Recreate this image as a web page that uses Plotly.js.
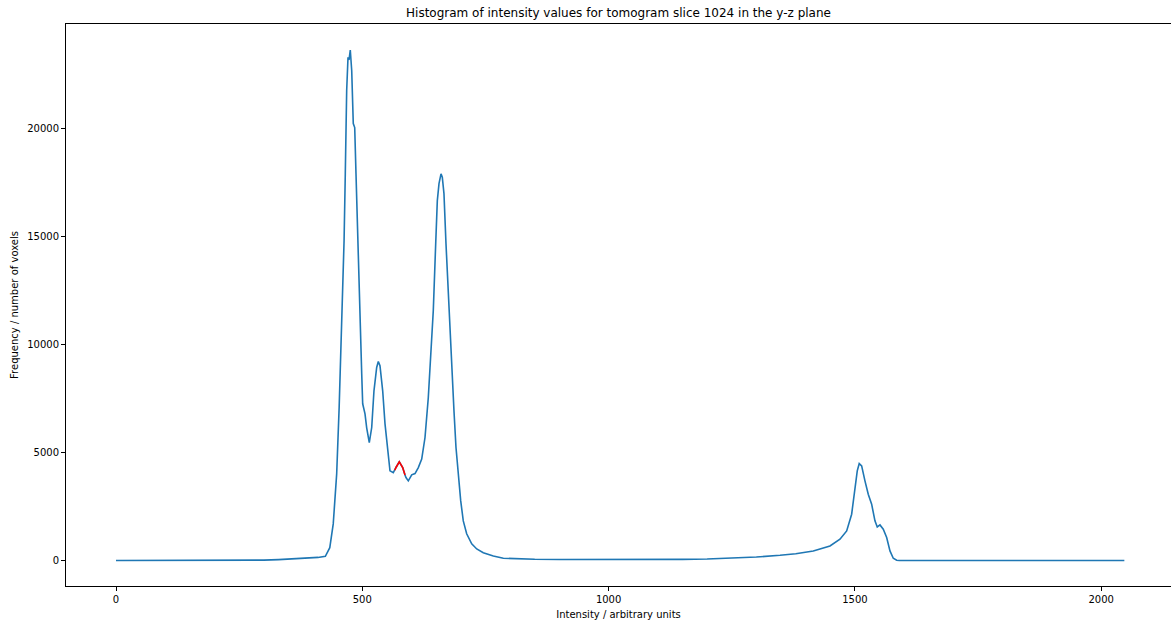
<!DOCTYPE html>
<html>
<head>
<meta charset="utf-8">
<script src="https://cdn.plot.ly/plotly-3.0.1.min.js"></script>
<style>
html, body { margin: 0; padding: 0; overflow: hidden; background: #fff; }
#chart { width: 1171px; height: 621px; }
</style>
</head>
<body>
<div id="chart"></div>
<script>
// Histogram (intensity, frequency)
const intensity = [0, 100, 200, 250, 280, 300, 330, 360, 390, 410, 425, 434, 441, 448, 453, 457, 460, 463, 465.5, 468.3, 471, 473, 475.6, 477, 478.5, 481.7, 484.6, 487.2, 490.7, 493.9, 498.8, 500.8, 505.5, 508.9, 514.2, 519.1, 523.7, 529.2, 532.5, 535.9, 541.4, 546.1, 551.6, 556.2, 562.9, 566, 568.4, 575.1, 582, 586.7, 588.7, 593.4, 600.3, 607, 613.7, 620.6, 627.3, 634, 638.9, 642.1, 644.1, 649, 652.3, 655.7, 659.8, 662.4, 665.8, 669.9, 674.6, 680.1, 686.1, 690.2, 694.9, 699.8, 705, 711.9, 722.1, 732.3, 745.6, 766, 786.3, 820, 850, 900, 950, 1000, 1050, 1100, 1150, 1200, 1250, 1300, 1348, 1380, 1415.5, 1449.4, 1469.7, 1483.3, 1493.4, 1500.1, 1504.8, 1508.8, 1513.7, 1520.4, 1527.1, 1534, 1540.7, 1545.4, 1550.9, 1557.6, 1564.5, 1571.2, 1577.9, 1584.8, 1590, 1700, 1800, 1900, 2000, 2047];
const frequency = [0, 0, 0, 3, 8, 15, 40, 70, 110, 140, 190, 593, 1690, 4005, 7075, 10163, 13265, 14793, 17895, 21738, 23280, 23150, 23610, 23000, 22663, 20210, 20025, 17895, 14793, 11705, 8635, 7246, 6783, 6135, 5454, 6149, 7848, 8927, 9204, 9005, 7848, 6320, 4931, 4144, 4065, 4170, 4301, 4561, 4301, 3950, 3834, 3681, 3959, 4019, 4297, 4686, 5686, 7538, 9390, 10626, 11552, 14654, 16645, 17432, 17881, 17724, 16969, 14654, 12339, 9237, 6922, 5223, 3834, 2755, 1829, 1232, 769, 532, 361, 208, 102, 70, 55, 45, 40, 35, 35, 40, 50, 65, 100, 160, 240, 310, 440, 671, 982, 1366, 2139, 3218, 4144, 4482, 4375, 3681, 3065, 2602, 1833, 1551, 1644, 1444, 1060, 440, 102, 10, 0, 0, 0, 0, 0, 0];

// Highlighted (red) segment
const redIntensity = [566, 568.4, 575.1, 582, 586.7];
const redFrequency = [4170, 4301, 4561, 4301, 3950];

const xTicks = [0, 500, 1000, 1500, 2000];
const yTicks = [0, 5000, 10000, 15000, 20000];

const traces = [
  { x: intensity, y: frequency, type: 'scatter', mode: 'lines',
    line: { color: '#1f77b4', width: 1.6 }, hoverinfo: 'x+y' },
  { x: redIntensity, y: redFrequency, type: 'scatter', mode: 'lines',
    line: { color: '#ff0000', width: 1.6 }, hoverinfo: 'x+y' }
];

const font = { family: 'DejaVu Sans, sans-serif', size: 10, color: '#000' };

const layout = {
  width: 1171, height: 621,
  margin: { l: 66, r: 0, t: 24, b: 35 },
  paper_bgcolor: '#fff', plot_bgcolor: '#fff',
  showlegend: false,
  font: font,
  title: { text: 'Histogram of intensity values for tomogram slice 1024 in the y-z plane',
           font: { family: 'DejaVu Sans, sans-serif', size: 12, color: '#000' },
           xref: 'paper', x: 0.5, xanchor: 'center', yref: 'container', y: 0.979, yanchor: 'middle' },
  xaxis: {
    range: [-101.5, 2141.7], tickvals: xTicks, ticktext: xTicks.map(String),
    showgrid: false, zeroline: false, showline: true, linecolor: '#000', linewidth: 1,
    mirror: true, ticks: 'outside', ticklen: 4, tickcolor: '#000', tickwidth: 1,
    tickfont: font,
    title: { text: 'Intensity / arbitrary units', font: font, standoff: 6 }
  },
  yaxis: {
    range: [-1182, 24815], tickvals: yTicks, ticktext: yTicks.map(String),
    showgrid: false, zeroline: false, showline: true, linecolor: '#000', linewidth: 1,
    mirror: false, ticks: 'outside', ticklen: 4, tickcolor: '#000', tickwidth: 1,
    tickfont: font,
    title: { text: 'Frequency / number of voxels', font: font, standoff: 6 }
  }
};

Plotly.newPlot('chart', traces, layout, { displayModeBar: false, staticPlot: true });
</script>
</body>
</html>
